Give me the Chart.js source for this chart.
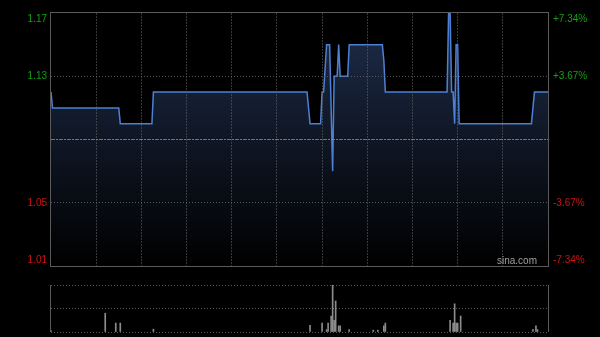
<!DOCTYPE html>
<html>
<head>
<meta charset="utf-8">
<script src="https://cdn.jsdelivr.net/npm/chart.js@4/dist/chart.umd.min.js"></script>
<style>
  html, body { margin: 0; padding: 0; background: #000; }
  #wrap { position: relative; width: 600px; height: 337px; overflow: hidden; background: #000; }
  #price { position: absolute; left: 0; top: 0; }
  #volume { position: absolute; left: 0; top: 276px; }
</style>
</head>
<body>
<div id="wrap">
  <canvas id="price" width="600" height="276"></canvas>
  <canvas id="volume" width="600" height="61"></canvas>
</div>
<script>
// previous close and axis ticks
const prevClose = 1.09;
const priceTicks = [1.01, 1.05, 1.09, 1.13, 1.17];
const timeTicks = [0, 30, 60, 90, 120, 150, 180, 210, 240, 270, 300, 330];

// intraday price (minute index from open, price at the minutes where it changes)
const priceMinutes = [0, 1, 45, 46, 67, 68, 170, 171, 172, 179, 180, 181, 183, 185, 187, 188, 190, 191, 192, 197, 198, 220, 221, 222, 263, 264, 265, 266, 267, 268, 269, 270, 271, 319, 321, 330];
const priceValues = [1.12, 1.11, 1.11, 1.10, 1.10, 1.12, 1.12, 1.11, 1.10, 1.10, 1.12, 1.12, 1.15, 1.15, 1.07, 1.13, 1.13, 1.15, 1.13, 1.13, 1.15, 1.15, 1.14, 1.12, 1.12, 1.17, 1.17, 1.12, 1.12, 1.10, 1.15, 1.15, 1.10, 1.10, 1.12, 1.12];

// volume (relative, % of the largest bar)
const volumeMinutes = [0, 36, 43, 46, 68, 172, 180, 183, 184, 186, 187, 188, 189, 191, 192, 198, 214, 217, 221, 222, 265, 267, 268, 269, 270, 272, 320, 322, 323];
const volumeValues = [3, 40, 19, 19, 6, 14, 19, 5, 19, 34, 100, 25, 66, 13, 13, 5, 4, 4, 13, 19, 25, 19, 60, 19, 19, 34, 5, 13, 5];

const green = "#12a012";
const red = "#cc1212";
const font = { family: "'Liberation Sans', Arial, sans-serif", size: 10, lineHeight: 1.2 };

function priceLabel(v) {
  if (Math.abs(v - prevClose) < 1e-9) return "";
  const s = v.toFixed(2);
  if (v === priceTicks[priceTicks.length - 1]) return ["", s];
  if (v === priceTicks[0]) return [s, ""];
  return s;
}
function pctLabel(v) {
  if (Math.abs(v - prevClose) < 1e-9) return "";
  const p = (v / prevClose - 1) * 100;
  const s = (p > 0 ? "+" : "") + p.toFixed(2) + "%";
  if (v === priceTicks[priceTicks.length - 1]) return ["", s];
  if (v === priceTicks[0]) return [s, ""];
  return s;
}
const tickColor = (ctx) => (ctx.tick.value > prevClose ? green : red);
const noPad = (s) => { s.paddingTop = 0; s.paddingBottom = 0; s.paddingLeft = 0; s.paddingRight = 0; };

const framePlugin = {
  id: "frame",
  afterDraw(chart) {
    const a = chart.chartArea;
    const c = chart.ctx;
    c.save();
    c.strokeStyle = "#5a5a5a";
    c.lineWidth = 1;
    c.strokeRect(a.left - 0.5, a.top - 0.5, a.right - a.left + 1, a.bottom - a.top + 1);
    c.fillStyle = "#a0a0a0";
    c.font = "10px 'Liberation Sans', Arial, sans-serif";
    c.textAlign = "right";
    c.textBaseline = "middle";
    c.fillText("sina.com", a.right - 11, a.bottom - 5);
    c.restore();
  },
};

new Chart(document.getElementById("price"), {
  type: "line",
  data: {
    datasets: [
      {
        data: priceMinutes.map((m, i) => ({ x: m, y: priceValues[i] })),
        borderColor: "#4d80d4",
        borderWidth: 1.5,
        pointRadius: 0,
        tension: 0,
        fill: "start",
        backgroundColor: (ctx) => {
          const a = ctx.chart.chartArea;
          if (!a) return "rgba(0,0,0,0)";
          const g = ctx.chart.ctx.createLinearGradient(0, a.top, 0, a.bottom);
          g.addColorStop(0, "rgb(30,45,74)");
          g.addColorStop(1, "rgb(0,0,0)");
          return g;
        },
      },
    ],
  },
  options: {
    responsive: false,
    animation: false,
    devicePixelRatio: 1,
    layout: { padding: { top: 13, bottom: 10, left: 0, right: 0 } },
    plugins: { legend: { display: false }, tooltip: { enabled: false } },
    scales: {
      x: {
        type: "linear",
        min: 0,
        max: 330,
        afterBuildTicks: (s) => { s.ticks = timeTicks.map((v) => ({ value: v })); },
        afterFit: (s) => { s.height = 0; noPad(s); },
        ticks: { display: false },
        grid: {
          z: 1,
          drawTicks: false,
          color: (ctx) => (ctx.tick.value === 0 || ctx.tick.value === 330 ? "rgba(0,0,0,0)" : "rgba(100,100,100,0.55)"),
        },
        border: { display: false, dash: [2, 1] },
      },
      y: {
        position: "left",
        min: priceTicks[0],
        max: priceTicks[priceTicks.length - 1],
        afterBuildTicks: (s) => { s.ticks = priceTicks.map((v) => ({ value: v })); },
        afterFit: (s) => { s.width = 51; noPad(s); },
        ticks: { callback: priceLabel, color: tickColor, font: font, padding: 4 },
        grid: {
          z: 1,
          drawTicks: false,
          color: (ctx) => {
            const v = ctx.tick.value;
            if (v === priceTicks[0] || v === priceTicks[priceTicks.length - 1]) return "rgba(0,0,0,0)";
            return Math.abs(v - prevClose) < 1e-9 ? "rgba(140,140,140,0.8)" : "rgba(110,110,110,0.75)";
          },
        },
        border: {
          display: false,
          dash: (ctx) => (ctx.tick && Math.abs(ctx.tick.value - prevClose) < 1e-9 ? [4, 1, 2, 1] : [1, 2]),
        },
      },
      y2: {
        position: "right",
        min: priceTicks[0],
        max: priceTicks[priceTicks.length - 1],
        afterBuildTicks: (s) => { s.ticks = priceTicks.map((v) => ({ value: v })); },
        afterFit: (s) => { s.width = 52; noPad(s); },
        ticks: { callback: pctLabel, color: tickColor, font: font, padding: 5 },
        grid: { display: false, drawTicks: false },
        border: { display: false },
      },
    },
  },
  plugins: [framePlugin],
});

const volFrame = {
  id: "volFrame",
  afterDraw(chart) {
    const a = chart.chartArea;
    const c = chart.ctx;
    c.save();
    c.strokeStyle = "#5a5a5a";
    c.lineWidth = 1;
    c.beginPath();
    c.moveTo(a.left - 0.5, a.top);
    c.lineTo(a.left - 0.5, a.bottom);
    c.moveTo(a.right + 0.5, a.top);
    c.lineTo(a.right + 0.5, a.bottom);
    c.stroke();
    c.restore();
  },
};

new Chart(document.getElementById("volume"), {
  type: "bar",
  data: {
    datasets: [
      {
        data: volumeMinutes.map((m, i) => ({ x: m, y: volumeValues[i] })),
        backgroundColor: "#8c8c8c",
        barThickness: 1,
      },
    ],
  },
  options: {
    responsive: false,
    animation: false,
    devicePixelRatio: 1,
    layout: { padding: { top: 9, bottom: 5, left: 51, right: 52 } },
    plugins: { legend: { display: false }, tooltip: { enabled: false } },
    scales: {
      x: { type: "linear", min: 0, max: 330, offset: false, display: false },
      y: {
        min: 0,
        max: 100,
        afterBuildTicks: (s) => { s.ticks = [0, 50, 100].map((v) => ({ value: v })); },
        afterFit: (s) => { s.width = 0; noPad(s); },
        ticks: { display: false },
        grid: { drawTicks: false, color: "#5a5a5a" },
        border: { display: false, dash: [1, 2] },
      },
    },
  },
  plugins: [volFrame],
});
</script>
</body>
</html>
